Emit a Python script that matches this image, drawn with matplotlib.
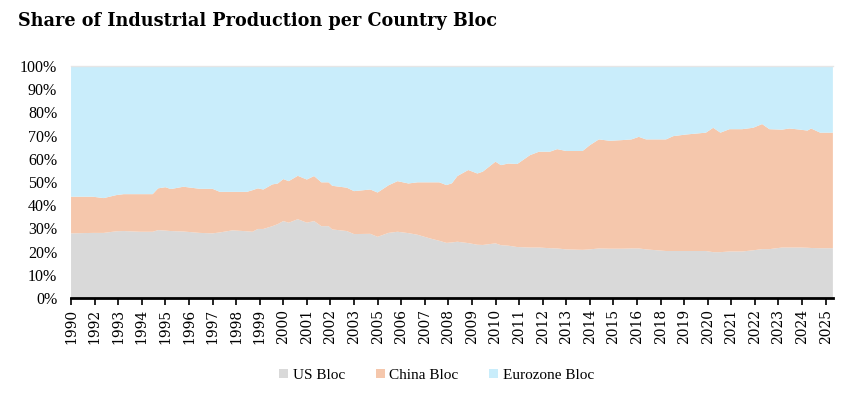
import numpy as np
import pandas as pd
import matplotlib
matplotlib.use("Agg")
import matplotlib.pyplot as plt
from matplotlib.patches import Patch

# (shares in %)
dates = [
    "1990-12", "1991-12", "1992-06", "1993-01", "1993-05", "1994-02", "1994-09",
    "1994-12", "1995-04", "1995-07", "1996-02", "1996-11", "1997-06", "1997-10",
    "1998-05", "1999-01", "1999-04", "1999-07", "1999-10", "2000-03", "2000-06",
    "2000-09", "2000-12", "2001-05", "2001-10", "2002-02", "2002-06", "2002-10",
    "2002-12", "2003-08", "2003-12", "2004-09", "2005-01", "2005-07", "2005-12",
    "2006-06", "2006-11", "2007-06", "2007-11", "2008-03", "2008-06", "2008-09",
    "2009-03", "2009-08", "2009-11", "2010-06", "2010-09", "2011-01", "2011-06",
    "2012-01", "2012-06", "2012-12", "2013-04", "2013-09", "2014-06", "2014-10",
    "2015-03", "2015-09", "2016-04", "2016-09", "2017-01", "2017-05", "2018-04",
    "2018-08", "2019-03", "2020-02", "2020-06", "2020-10", "2021-03", "2021-10",
    "2022-04", "2022-09", "2023-01", "2023-08", "2023-12", "2024-06", "2024-10",
    "2024-12", "2025-05", "2025-12",
]
us_bloc = [
    27.9, 28.1, 28.1, 28.8, 28.9, 28.6, 28.6, 29.3, 29.1, 28.9, 28.7, 28.1, 27.9,
    28.3, 29.2, 28.8, 28.6, 29.8, 29.8, 31.0, 31.9, 33.2, 32.5, 34.0, 32.5, 33.2,
    31.0, 31.0, 29.6, 28.9, 27.6, 27.7, 26.4, 28.1, 28.6, 28.0, 27.3, 25.7, 24.7,
    23.8, 24.0, 24.3, 23.7, 23.0, 22.9, 23.6, 22.8, 22.6, 22.0, 21.8, 21.8, 21.5,
    21.4, 21.0, 20.8, 21.0, 21.4, 21.3, 21.3, 21.4, 21.4, 21.0, 20.3, 20.3, 20.3,
    20.3, 19.8, 19.8, 20.1, 20.1, 20.6, 21.1, 21.1, 21.8, 21.8, 21.8, 21.7, 21.6,
    21.5, 21.5,
]
china_bloc = [
    15.8, 15.6, 15.0, 15.6, 15.9, 16.2, 16.2, 18.0, 18.7, 18.1, 19.3, 19.0, 19.2,
    17.5, 16.6, 17.0, 17.9, 17.5, 17.0, 18.0, 17.5, 18.1, 17.9, 18.7, 18.6, 19.4,
    18.9, 18.9, 18.8, 18.7, 18.5, 19.1, 19.1, 20.5, 21.8, 21.4, 22.6, 24.2, 25.2,
    24.9, 25.5, 28.3, 31.5, 30.7, 31.6, 35.2, 34.5, 35.4, 35.8, 39.8, 41.3, 41.6,
    42.8, 42.4, 42.6, 44.9, 47.0, 46.5, 46.8, 47.0, 48.1, 47.4, 48.1, 49.5, 50.2,
    51.0, 53.6, 51.5, 52.7, 52.7, 52.8, 53.9, 51.7, 50.8, 51.3, 50.8, 50.5, 51.5,
    49.8, 49.8,
]
eurozone_bloc = [
    56.3, 56.3, 56.9, 55.6, 55.2, 55.2, 55.2, 52.7, 52.2, 53.0, 52.0, 52.9, 52.9,
    54.2, 54.2, 54.2, 53.5, 52.7, 53.2, 51.0, 50.6, 48.7, 49.6, 47.3, 48.9, 47.4,
    50.1, 50.1, 51.6, 52.4, 53.9, 53.2, 54.5, 51.4, 49.6, 50.6, 50.1, 50.1, 50.1,
    51.3, 50.5, 47.4, 44.8, 46.3, 45.5, 41.2, 42.7, 42.0, 42.2, 38.4, 36.9, 36.9,
    35.8, 36.6, 36.6, 34.1, 31.6, 32.2, 31.9, 31.6, 30.5, 31.6, 31.6, 30.2, 29.5,
    28.7, 26.6, 28.7, 27.2, 27.2, 26.6, 25.0, 27.2, 27.4, 26.9, 27.4, 27.8, 26.9,
    28.7, 28.7,
]
tick_years = [
    "1990", "1992", "1993", "1994", "1995", "1996", "1997", "1998", "1999", "2000",
    "2001", "2002", "2003", "2005", "2006", "2007", "2008", "2009", "2010", "2011",
    "2012", "2013", "2014", "2015", "2016", "2018", "2019", "2020", "2021", "2022",
    "2023", "2024", "2025",
]
labels = ["US Bloc", "China Bloc", "Eurozone Bloc"]
colors = ["#d9d9d9", "#f5c7ac", "#c9edfb"]

start = pd.Period(dates[0], freq="M")
x = np.array([(pd.Period(d, freq="M") - start).n for d in dates])
tick_pos = np.arange(len(tick_years)) * 13

plt.rcParams["font.family"] = ["Liberation Serif", "DejaVu Serif"]

fig = plt.figure(figsize=(8.56, 3.98), dpi=100)
ax = fig.add_axes([0.083, 0.251, 0.89, 0.583])

ax.stackplot(x, us_bloc, china_bloc, eurozone_bloc, colors=colors, linewidth=0)

ax.set_xlim(0, x[-1])
ax.set_ylim(0, 100)
ax.set_yticks(np.arange(0, 101, 10))
ax.set_yticklabels([f"{v}%" for v in range(0, 101, 10)], fontsize=11.5)
ax.tick_params(axis="y", length=0, pad=10)

ax.set_xticks(tick_pos)
ax.set_xticklabels(tick_years, rotation=90, fontsize=10, family="DejaVu Serif")
ax.tick_params(axis="x", direction="out", length=5, width=1.2, color="black", pad=3)

for s in ["left", "right"]:
    ax.spines[s].set_visible(False)
ax.spines["top"].set_color("#e6e6e6")
ax.spines["top"].set_linewidth(1)
ax.spines["bottom"].set_linewidth(2)
ax.spines["bottom"].set_color("black")

fig.text(0.021, 0.948, "Share of Industrial Production per Country Bloc",
         fontsize=12.7, fontweight="bold", va="center", ha="left",
         family="DejaVu Serif")

handles = [Patch(facecolor=c, edgecolor="none") for c in colors]
fig.legend(handles, labels, loc="center", bbox_to_anchor=(0.51, 0.057), ncol=3,
           frameon=False, fontsize=11, handlelength=0.6, handleheight=0.6,
           handletextpad=0.3, columnspacing=2.0)

fig.savefig("out.png", dpi=100)
